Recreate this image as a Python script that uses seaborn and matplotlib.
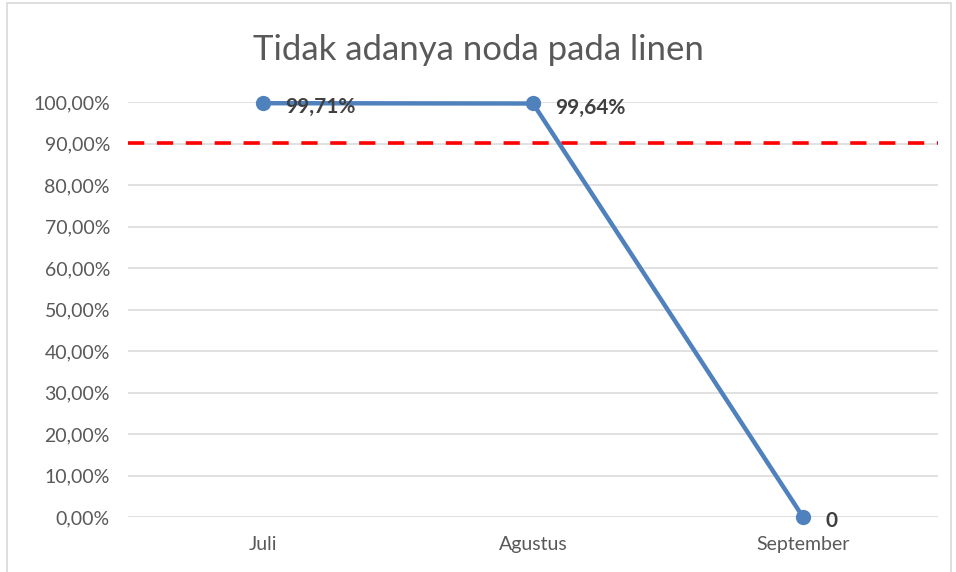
import pandas as pd
import numpy as np
import matplotlib.pyplot as plt
import seaborn as sns
from matplotlib.ticker import FuncFormatter
from matplotlib.patches import Rectangle

months = ['Juli', 'Agustus', 'September']
values = [0.9971, 0.9964, 0.0]
labels = ['99,71%', '99,64%', '0']
target = 0.902
yticks = np.arange(0, 1.01, 0.1)

df = pd.DataFrame({'bulan': months, 'nilai': values})

sns.set_style('white')
plt.rcParams['font.family'] = ['Lato', 'DejaVu Sans']

fig = plt.figure(figsize=(9.56, 5.72), dpi=100)
ax = fig.add_axes([128/956, 1-517/572, (938-128)/956, (517-102)/572])

# grid lines
for t in yticks:
    ax.axhline(t, color='#d9d9d9', lw=1.1, zorder=0)

ax.axhline(target, color='#ff0000', lw=2.6, ls=(0, (4.5, 3.5)), zorder=1)

sns.lineplot(data=df, x='bulan', y='nilai', ax=ax, color='#4f81bd', lw=3.2,
             marker='o', markersize=11, markeredgewidth=0, sort=False, zorder=3,
             clip_on=False)

for i, (v, lab) in enumerate(zip(values, labels)):
    ax.annotate(lab, (i, v), xytext=(16, -3), textcoords='offset points',
                va='center', ha='left', fontsize=15, fontweight='bold',
                color='#404040')

ax.set_xlim(-0.5, 2.5)
ax.set_ylim(0, 1.0)
ax.set_yticks(yticks)
ax.yaxis.set_major_formatter(FuncFormatter(lambda v, p: f'{v*100:.2f}%'.replace('.', ',')))
ax.tick_params(axis='both', labelsize=14, labelcolor='#595959', length=0)
ax.tick_params(axis='y', pad=13)
ax.tick_params(axis='x', pad=14)
ax.set_xlabel('')
ax.set_ylabel('')
for s in ax.spines.values():
    s.set_visible(False)

fig.text(0.5, 1-50/572, 'Tidak adanya noda pada linen', ha='center', va='center',
         fontsize=25, color='#595959')

fig.patches.append(Rectangle((7/956, -0.05), (951-7)/956, 1-3/572+0.05,
                             transform=fig.transFigure, fill=False,
                             edgecolor='#d9d9d9', lw=1.2))

fig.savefig('out.png', dpi=100)
